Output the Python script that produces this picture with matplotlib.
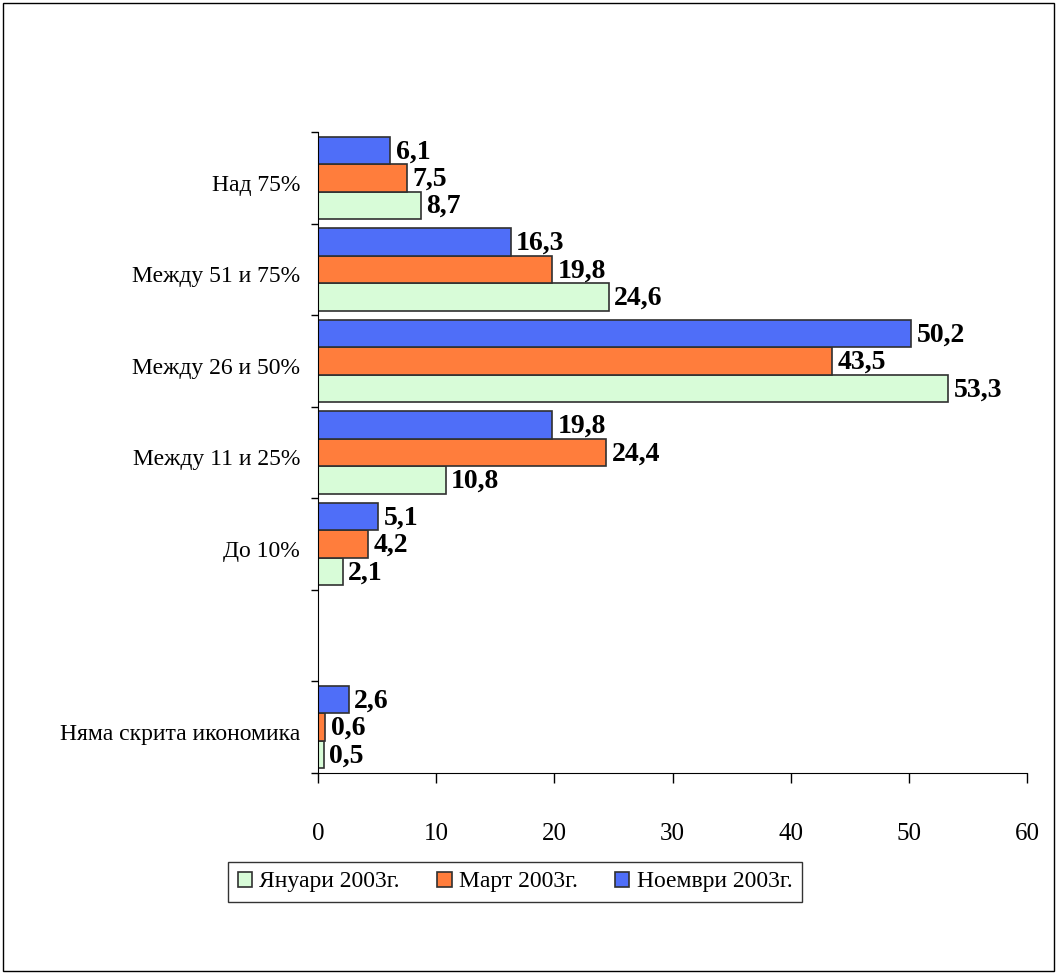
import matplotlib.pyplot as plt
import matplotlib.transforms as mtransforms
from matplotlib.patches import Rectangle
import numpy as np

# DATA #######################################################################

categories = ['Няма скрита икономика', '', 'До 10%', 'Между 11 и 25%',
              'Между 26 и 50%', 'Между 51 и 75%', 'Над 75%']
series = ['Януари 2003г.', 'Март 2003г.', 'Ноември 2003г.']
jan = [0.5, None, 2.1, 10.8, 53.3, 24.6, 8.7]
mar = [0.6, None, 4.2, 24.4, 43.5, 19.8, 7.5]
nov = [2.6, None, 5.1, 19.8, 50.2, 16.3, 6.1]
x_ticks = [0, 10, 20, 30, 40, 50, 60]

colors = ['#d8fcd8', '#ff7d3c', '#4f6ef8']

# PLOT #######################################################################

plt.rcParams['font.family'] = ['Liberation Serif', 'DejaVu Serif']

fig = plt.figure(figsize=(10.57, 9.74), dpi=100)
ax = fig.add_axes([318 / 1057, 1 - 773 / 974, (1027 - 318) / 1057, (773 - 132) / 974])

pos = np.arange(len(categories))
h = 0.3
for k, (vals, name, col) in enumerate(zip([jan, mar, nov], series, colors)):
    ys, ws = [], []
    for i, v in enumerate(vals):
        if v is not None:
            ys.append(pos[i] + (k - 1) * h)
            ws.append(v)
    ax.barh(ys, ws, height=h, color=col, edgecolor='#303030', linewidth=1.2, label=name)
    for y, w in zip(ys, ws):
        ax.annotate(f'{w:.1f}'.replace('.', ','), (w, y), xytext=(4, -1),
                    textcoords='offset points', va='center', ha='left',
                    fontsize=20, fontweight='bold')

ax.set_xlim(0, 60)
ax.set_ylim(-0.5, len(categories) - 0.5)
ax.set_xticks(x_ticks)
ax.set_xticklabels([str(t) for t in x_ticks], fontsize=18)
ax.tick_params(axis='x', direction='out', length=7, pad=29, width=1)

ax.set_yticks(pos)
ax.set_yticklabels(categories, fontsize=17)
ax.set_yticks(np.arange(len(categories) + 1) - 0.5, minor=True)
ax.tick_params(axis='y', which='major', length=0, pad=13)
ax.tick_params(axis='y', which='minor', length=5, width=1, direction='out')
shift = mtransforms.ScaledTranslation(0, -5 / 100, fig.dpi_scale_trans)
for lab in ax.get_yticklabels():
    lab.set_transform(lab.get_transform() + shift)

for s in ['top', 'right']:
    ax.spines[s].set_visible(False)

leg = fig.legend(loc='center', bbox_to_anchor=(515 / 1057, 1 - 882 / 974), ncol=3,
                 fontsize=17, frameon=True, fancybox=False, edgecolor='black',
                 handlelength=0.6, handleheight=0.6, handletextpad=0.3,
                 columnspacing=1.6, borderpad=0.4)
leg.get_frame().set_linewidth(1)

fig.patches.append(Rectangle((0.003, 0.003), 0.994, 0.994, transform=fig.transFigure,
                             fill=False, edgecolor='black', linewidth=1))

fig.savefig('out.png', dpi=100)
